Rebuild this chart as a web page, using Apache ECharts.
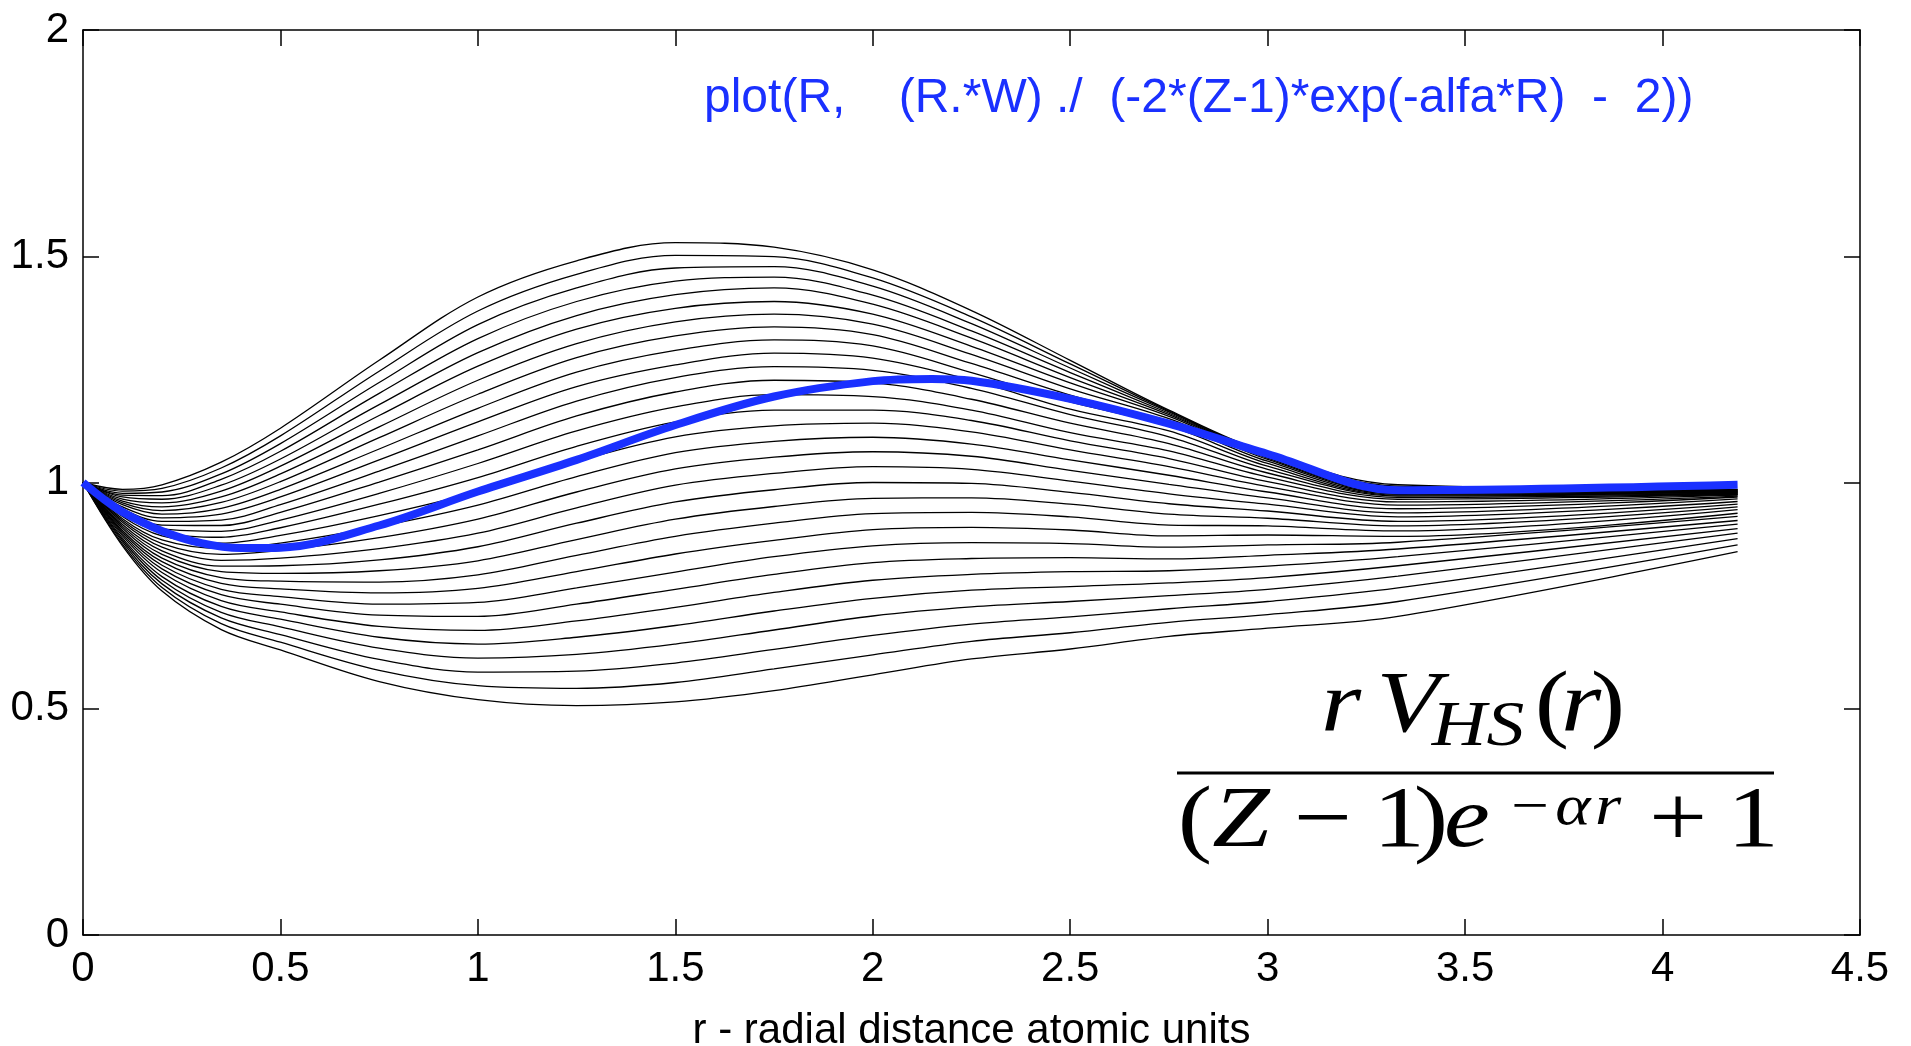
<!DOCTYPE html>
<html>
<head>
<meta charset="utf-8">
<title>rV_HS(r) / ((Z-1)e^(-alfa r) + 1)</title>
<script src="https://cdn.jsdelivr.net/npm/echarts@6/dist/echarts.min.js"></script>
<style>
  html, body { margin: 0; padding: 0; background: #fff; }
  #chart { width: 1911px; height: 1046px; }
</style>
</head>
<body>
<div id="chart"></div>
<script>
// radial grid the family of curves was read on
const R = [0, 0.1, 0.2, 0.35, 0.5, 0.75, 1.0, 1.25, 1.5, 1.75, 2.0, 2.25, 2.5, 2.75, 3.0, 3.33, 4.19]

// black curves, top to bottom
const line01 = [1, .985, .995, 1.045, 1.120, 1.270, 1.410, 1.490, 1.530, 1.520, 1.470, 1.380, 1.270, 1.160, 1.065, .995, .985]
const line02 = [1, .981, .987, 1.032, 1.103, 1.246, 1.379, 1.460, 1.502, 1.499, 1.452, 1.366, 1.262, 1.158, 1.063, .992, .984]
const line03 = [1, .976, .979, 1.019, 1.086, 1.221, 1.349, 1.430, 1.474, 1.477, 1.434, 1.351, 1.253, 1.156, 1.061, .989, .983]
const line04 = [1, .972, .971, 1.007, 1.069, 1.197, 1.318, 1.400, 1.445, 1.454, 1.414, 1.335, 1.243, 1.153, 1.059, .986, .982]
const line05 = [1, .968, .963, .994, 1.052, 1.172, 1.287, 1.369, 1.415, 1.430, 1.394, 1.319, 1.232, 1.150, 1.057, .983, .981]
const line06 = [1, .963, .955, .981, 1.036, 1.148, 1.257, 1.339, 1.385, 1.400, 1.372, 1.301, 1.220, 1.146, 1.054, .980, .980]
const line07 = [1, .959, .946, .968, 1.019, 1.123, 1.226, 1.307, 1.355, 1.372, 1.350, 1.283, 1.207, 1.141, 1.051, .978, .979]
const line08 = [1, .955, .938, .956, 1.002, 1.099, 1.195, 1.276, 1.324, 1.344, 1.327, 1.263, 1.193, 1.134, 1.047, .976, .978]
const line09 = [1, .951, .930, .943, .985, 1.074, 1.164, 1.244, 1.292, 1.315, 1.302, 1.243, 1.178, 1.125, 1.042, .974, .977]
const line10 = [1, .946, .922, .930, .968, 1.050, 1.134, 1.212, 1.260, 1.286, 1.275, 1.226, 1.162, 1.114, 1.036, .972, .976]
const line11 = [1, .942, .914, .917, .951, 1.025, 1.103, 1.180, 1.232, 1.256, 1.248, 1.208, 1.150, 1.101, 1.029, .970, .975]
const line12 = [1, .938, .906, .905, .934, 1.001, 1.072, 1.147, 1.200, 1.226, 1.220, 1.184, 1.131, 1.086, 1.021, .967, .974]
const line13 = [1, .933, .898, .892, .917, .976, 1.042, 1.114, 1.167, 1.194, 1.190, 1.160, 1.110, 1.070, 1.012, .963, .973]
const line14 = [1, .929, .890, .879, .900, .952, 1.011, 1.080, 1.134, 1.160, 1.160, 1.137, 1.092, 1.053, 1.002, .957, .972]
const line15 = [1, .925, .882, .866, .883, .927, .980, 1.047, 1.101, 1.125, 1.131, 1.112, 1.072, 1.035, .991, .950, .970]
const line16 = [1, .920, .873, .854, .866, .903, .950, 1.013, 1.066, 1.091, 1.100, 1.085, 1.050, 1.016, .979, .942, .968]
const line17 = [1, .916, .865, .841, .850, .878, .919, .979, 1.030, 1.056, 1.068, 1.058, 1.027, .996, .966, .933, .964]
const line18 = [1, .912, .857, .828, .833, .854, .888, .944, .994, 1.020, 1.035, 1.029, 1.003, .975, .952, .924, .958]
const line19 = [1, .907, .849, .815, .816, .829, .858, .910, .957, .984, 1.000, .998, .978, .953, .937, .914, .952]
const line20 = [1, .903, .841, .803, .799, .805, .827, .874, .919, .947, .965, .966, .952, .930, .921, .904, .946]
const line21 = [1, .899, .833, .790, .782, .780, .796, .839, .881, .910, .931, .934, .924, .906, .904, .893, .940]
const line22 = [1, .894, .825, .777, .765, .756, .766, .803, .842, .872, .896, .901, .895, .882, .884, .881, .932]
const line23 = [1, .890, .817, .764, .748, .731, .735, .767, .802, .836, .860, .867, .865, .857, .862, .868, .925]
const line24 = [1, .886, .809, .752, .731, .707, .704, .731, .764, .797, .823, .832, .834, .831, .839, .853, .916]
const line25 = [1, .882, .801, .739, .714, .682, .673, .694, .724, .757, .784, .797, .803, .805, .815, .836, .908]
const line26 = [1, .877, .792, .726, .698, .658, .643, .658, .684, .716, .744, .762, .770, .778, .790, .816, .898]
const line27 = [1, .873, .784, .713, .681, .634, .612, .620, .643, .674, .705, .725, .737, .750, .764, .793, .888]
const line28 = [1, .869, .776, .701, .664, .609, .581, .583, .601, .631, .662, .687, .703, .721, .737, .767, .876]
const line29 = [1, .864, .768, .688, .647, .585, .551, .545, .558, .588, .619, .649, .668, .691, .708, .737, .862]
const line30 = [1, .860, .760, .675, .630, .560, .520, .507, .515, .540, .575, .610, .632, .660, .678, .704, .847]

// the bold blue curve
const blueR = [0, 0.05, 0.1, 0.2, 0.3, 0.4, 0.5, 0.75, 1.0, 1.25, 1.5, 1.75, 2.0, 2.15, 2.25, 2.5, 2.75, 3.0, 3.33, 4.19]
const blueV = [1.0, 0.965, 0.935, 0.893, 0.866, 0.855, 0.856, 0.905, 0.98, 1.05, 1.127, 1.19, 1.224, 1.229, 1.225, 1.185, 1.13, 1.063, 0.983, 0.995]

const xTicks = { min: 0, max: 4.5, interval: 0.5 }
const yTicks = { min: 0, max: 2, interval: 0.5 }

const blackLines = [
  line01, line02, line03, line04, line05, line06, line07, line08, line09, line10,
  line11, line12, line13, line14, line15, line16, line17, line18, line19, line20,
  line21, line22, line23, line24, line25, line26, line27, line28, line29, line30
]

const BLUE = '#1a30ff'
const labelFont = { color: '#000', fontSize: 42, fontFamily: 'Liberation Sans' }

const axisCommon = {
  type: 'value',
  splitLine: { show: false },
  axisLine: { show: true, onZero: false, lineStyle: { color: '#000', width: 1.5 } },
  axisTick: { show: true, inside: true, length: 16, lineStyle: { color: '#000', width: 1.5 } }
}

const chart = echarts.init(document.getElementById('chart'))

const series = blackLines.map((vals, i) => ({
  name: 'w' + (i + 1),
  type: 'line',
  data: R.map((r, j) => [r, vals[j]]),
  showSymbol: false,
  smooth: 0.35,
  silent: true,
  lineStyle: { color: '#000', width: 1.3 },
  z: 2
}))

series.push({
  name: 'plot',
  type: 'line',
  data: blueR.map((r, j) => [r, blueV[j]]),
  showSymbol: false,
  smooth: 0.35,
  silent: true,
  lineStyle: { color: BLUE, width: 8, cap: 'butt' },
  z: 5
})

// formula glyphs, placed one by one (center x, baseline y, size, italic),
// widened a little to look like the TeX rendering
const serif = '"Liberation Serif", "DejaVu Serif", serif'
const glyph = (text, cx, base, size, italic) => ({
  type: 'text',
  silent: true,
  x: cx,
  y: base - 0.34 * size,
  scaleX: 1.2,
  style: {
    text: text,
    x: 0,
    y: 0,
    font: (italic ? 'italic ' : '') + size + 'px ' + serif,
    fill: '#000',
    align: 'center',
    verticalAlign: 'middle',
    textAlign: 'center',
    textVerticalAlign: 'middle'
  }
})

const option = {
  backgroundColor: '#fff',
  animation: false,
  grid: { left: 83, right: 51, top: 30, bottom: 111, outerBoundsMode: 'none', containLabel: false },
  xAxis: [
    Object.assign({}, axisCommon, xTicks, {
      position: 'bottom',
      axisLabel: Object.assign({ margin: 13 }, labelFont),
      name: 'r - radial distance atomic units',
      nameLocation: 'middle',
      nameGap: 75,
      nameTextStyle: labelFont
    }),
    Object.assign({}, axisCommon, xTicks, { position: 'top', axisLabel: { show: false } })
  ],
  yAxis: [
    Object.assign({}, axisCommon, yTicks, {
      position: 'left',
      axisLabel: Object.assign({ margin: 14 }, labelFont)
    }),
    Object.assign({}, axisCommon, yTicks, { position: 'right', axisLabel: { show: false } })
  ],
  series: series,
  graphic: [
    {
      type: 'text',
      silent: true,
      style: {
        text: 'plot(R,    (R.*W) ./  (-2*(Z-1)*exp(-alfa*R)  -  2))',
        x: 704,
        y: 99,
        font: '48px "Liberation Sans"',
        fill: BLUE,
        align: 'left',
        verticalAlign: 'middle',
        textAlign: 'left',
        textVerticalAlign: 'middle'
      }
    },
    // numerator  r V_HS (r)
    glyph('r', 1341, 738, 86, true),
    glyph('V', 1408, 738, 86, true),
    glyph('HS', 1478, 750, 63, true),
    glyph('(', 1552, 738, 86, false),
    glyph('r', 1581, 738, 86, true),
    glyph(')', 1608, 738, 86, false),
    // fraction bar
    {
      type: 'line',
      silent: true,
      shape: { x1: 1177, y1: 773, x2: 1774, y2: 773 },
      style: { stroke: '#000', lineWidth: 3 }
    },
    // denominator  (Z - 1) e^{-alpha r} + 1
    glyph('(', 1195, 853, 86, false),
    glyph('Z', 1241, 853, 86, true),
    glyph('\u2212', 1323, 853, 86, false),
    glyph('1', 1399, 853, 86, false),
    glyph(')', 1431, 853, 86, false),
    glyph('e', 1467, 853, 86, true),
    glyph('\u2212', 1530, 828, 56, false),
    glyph('\u03b1', 1573, 828, 56, true),
    glyph('r', 1608, 828, 56, true),
    glyph('+', 1678, 853, 86, false),
    glyph('1', 1753, 853, 86, false)
  ]
}

chart.setOption(option)
</script>
</body>
</html>
